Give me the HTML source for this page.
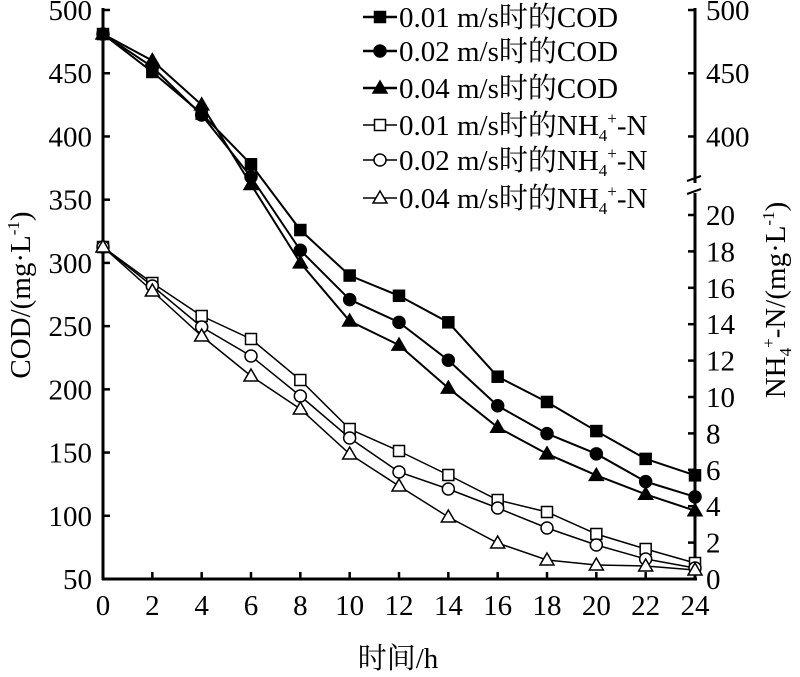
<!DOCTYPE html>
<html><head><meta charset="utf-8"><style>
body{margin:0;background:#fff}
svg{display:block}
text{font-family:"Liberation Serif","Noto Serif CJK SC",serif;fill:#000}
</style></head><body>
<svg width="800" height="677" viewBox="0 0 800 677">
<g stroke="#000" stroke-width="3" fill="none">
<line x1="103" y1="8" x2="103" y2="580"/>
<line x1="102" y1="579" x2="697" y2="579"/>
<line x1="695" y1="8" x2="695" y2="183"/>
<line x1="695" y1="193" x2="695" y2="580"/>
</g>
<g stroke="#000" stroke-width="2">
<line x1="687" y1="181" x2="701" y2="176"/>
<line x1="687" y1="194" x2="701" y2="189"/>
</g>
<g stroke="#000" stroke-width="2.5" id="ticks"></g>
<g font-size="29" id="labels"></g>
<text x="398" y="668" font-size="29" text-anchor="middle">时间/h</text>
<text transform="translate(30,295) rotate(-90)" font-size="29" text-anchor="middle">COD/(mg·L<tspan font-size="17" dy="-11">-1</tspan><tspan dy="11">)</tspan></text>
<text transform="translate(785,300) rotate(-90)" font-size="29" text-anchor="middle">NH<tspan font-size="17" dy="6">4</tspan><tspan font-size="17" dy="-17">+</tspan><tspan dy="11">-N/(mg·L</tspan><tspan font-size="17" dy="-11">-1</tspan><tspan dy="11">)</tspan></text>
<g id="series"></g>
<g id="legend" font-size="29"></g>
</svg>
<script>
const NS="http://www.w3.org/2000/svg";
function el(p,t,a,txt){const e=document.createElementNS(NS,t);for(const k in a)e.setAttribute(k,a[k]);if(txt!==undefined)e.textContent=txt;document.getElementById(p).appendChild(e);return e;}
const X=h=>103+h*(592/24);
const Y=v=>579-(v-50)*1.2644;
const YR=v=>579-v*18.2;
for(let v=50;v<=500;v+=50){el("ticks","line",{x1:103,y1:Y(v),x2:110,y2:Y(v)});el("labels","text",{x:92,y:Y(v)+10,"text-anchor":"end"},v);}
for(let h=0;h<=24;h+=2){el("ticks","line",{x1:X(h),y1:579,x2:X(h),y2:572});el("labels","text",{x:X(h),y:615,"text-anchor":"middle"},h);}
for(const v of [400,450,500]){el("ticks","line",{x1:688,y1:Y(v),x2:695,y2:Y(v)});el("labels","text",{x:706,y:Y(v)+10},v);}
for(let v=0;v<=20;v+=2){el("ticks","line",{x1:688,y1:YR(v),x2:695,y2:YR(v)});el("labels","text",{x:706,y:YR(v)+10},v);}
const cod=[[481,451,418,378,326,290,274,253,210,190,167,145,132],[481,455,417,368,310,271,253,223,187,165,149,127,115],[481,460,425,362,300,254,235,201,170,149,132,117,104]];
const nh=[[247,283,316,339,380,429,451,475,500,512,534,549,563],[247,286,327,356,396,438,472,489,508,528,545,559,568],[247,291,336,376,409,454,486,517,543,560,565,566,570]];
function mark(t,x,y,filled){const f=filled?"#000":"#fff";
 if(t==0)el("series","rect",{x:x-5.5,y:y-5.5,width:11,height:11,fill:f,stroke:"#000","stroke-width":1.5});
 else if(t==1)el("series","circle",{cx:x,cy:y,r:6,fill:f,stroke:"#000","stroke-width":1.5});
 else el("series","polygon",{points:`${x},${y-7} ${x-7},${y+5} ${x+7},${y+5}`,fill:f,stroke:"#000","stroke-width":1.5});}
cod.forEach(s=>{el("series","polyline",{points:s.map((v,j)=>X(2*j)+","+Y(v)).join(" "),fill:"none",stroke:"#000","stroke-width":2});});
nh.forEach(s=>{el("series","polyline",{points:s.map((v,j)=>X(2*j)+","+v).join(" "),fill:"none",stroke:"#000","stroke-width":1.5});});
cod.forEach((s,i)=>s.forEach((v,j)=>mark(i,X(2*j),Y(v),true)));
nh.forEach((s,i)=>s.forEach((v,j)=>mark(i,X(2*j),v,false)));
const ly=[17,51,88,125,160,198];
const labs=["0.01 m/s时的COD","0.02 m/s时的COD","0.04 m/s时的COD","0.01 m/s时的","0.02 m/s时的","0.04 m/s时的"];
ly.forEach((y,i)=>{
 el("series","line",{x1:363,y1:y,x2:397,y2:y,stroke:"#000","stroke-width":i<3?2.5:1.5});
 mark(i%3,380,y,i<3);
 const tx=el("legend","text",{x:399,y:y+10},labs[i]);
 if(i>=3){const a=document.createElementNS(NS,"tspan");a.textContent="NH";tx.appendChild(a);
  const b=document.createElementNS(NS,"tspan");b.setAttribute("font-size","17");b.setAttribute("dy","6");b.textContent="4";tx.appendChild(b);
  const c=document.createElementNS(NS,"tspan");c.setAttribute("font-size","17");c.setAttribute("dy","-17");c.textContent="+";tx.appendChild(c);
  const d=document.createElementNS(NS,"tspan");d.setAttribute("dy","11");d.textContent="-N";tx.appendChild(d);}
});
</script>
</body></html>
